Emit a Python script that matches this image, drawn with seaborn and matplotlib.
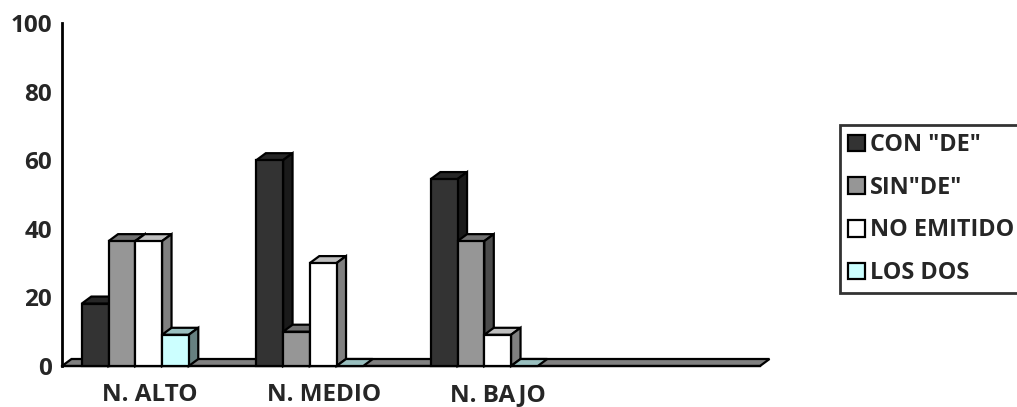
import numpy as np
import pandas as pd
import seaborn as sns
import matplotlib.pyplot as plt
from matplotlib.patches import Polygon, Patch, Rectangle
from matplotlib.colors import to_rgb

# Categories, series and values (%)
niveles = ["N. ALTO", "N. MEDIO", "N. BAJO", ""]
series = ['CON "DE"', 'SIN"DE"', "NO EMITIDO", "LOS DOS"]
con_de = [18.2, 60.0, 54.5]
sin_de = [36.4, 10.0, 36.4]
no_emitido = [36.4, 30.0, 9.1]
los_dos = [9.1, 0.0, 0.0]
y_ticks = [0, 20, 40, 60, 80, 100]

colores = ["#333333", "#969696", "#FFFFFF", "#CCFFFF"]

rows = []
for s, vals in zip(series, [con_de, sin_de, no_emitido, los_dos]):
    for n, v in zip(niveles, vals):
        rows.append({"nivel": n, "serie": s, "valor": v})
df = pd.DataFrame(rows)

sns.set_style("white")
plt.rcParams["font.family"] = ["Open Sans", "DejaVu Sans"]
plt.rcParams["font.weight"] = "bold"
FS = 17.5
FS_LEG = 16.8

W, H = 1017, 407
fig = plt.figure(figsize=(W / 100, H / 100), dpi=100)
ax = fig.add_axes([62 / W, 1 - 366 / H, (760 - 62) / W, (366 - 23) / H])

sns.barplot(data=df, x="nivel", y="valor", hue="serie", order=niveles,
            hue_order=series, palette=colores, saturation=1, width=0.613,
            edgecolor="black", linewidth=1.6, legend=False, ax=ax)

ax.set_xlim(-0.5, 3.5)
ax.set_ylim(0, 100)

bars = sorted([p for p in ax.patches if isinstance(p, Rectangle)],
              key=lambda p: p.get_x())

# depth of the 3-D extrusion, converted from pixels to data units
p0 = ax.transData.transform((0, 0))
ddx, ddy = ax.transData.inverted().transform((p0[0] + 9.5, p0[1] + 7.0))

# floor plane
floor = Polygon([(-0.5, 0), (3.5, 0), (3.5 + ddx, ddy), (-0.5 + ddx, ddy)],
                closed=True, facecolor="#808080", edgecolor="black",
                linewidth=1.6, clip_on=False, zorder=1)
ax.add_patch(floor)

def shade(c, f):
    r, g, b = to_rgb(c)
    return (r * f, g * f, b * f)

for i, bar in enumerate(bars):
    bar.set_x(bar.get_x() - 0.08)
    x0, w, h = bar.get_x(), bar.get_width(), bar.get_height()
    fc = bar.get_facecolor()[:3]
    z = 3 + i * 0.1
    top = Polygon([(x0, h), (x0 + w, h), (x0 + w + ddx, h + ddy), (x0 + ddx, h + ddy)],
                  closed=True, facecolor=shade(fc, 0.75), edgecolor="black",
                  linewidth=1.6, clip_on=False, zorder=z)
    ax.add_patch(top)
    if h > 0:
        side = Polygon([(x0 + w, 0), (x0 + w + ddx, ddy), (x0 + w + ddx, h + ddy), (x0 + w, h)],
                       closed=True, facecolor=shade(fc, 0.5), edgecolor="black",
                       linewidth=1.6, clip_on=False, zorder=z)
        ax.add_patch(side)
        bar.set_zorder(z + 0.05)
    else:
        bar.set_visible(False)
    bar.set_clip_on(False)

# axes styling
for s in ["top", "right"]:
    ax.spines[s].set_visible(False)
ax.spines["left"].set_linewidth(2)
ax.spines["bottom"].set_linewidth(1.6)
ax.spines["left"].set_color("black")
ax.spines["bottom"].set_color("black")

ax.set_yticks(y_ticks)
ax.set_yticklabels([str(t) for t in y_ticks], fontsize=FS, fontweight="bold")
ax.tick_params(axis="y", direction="out", length=4, width=1.6, pad=3, color="black")

ax.set_xticks([0, 1, 2, 3])
ax.set_xticklabels(niveles, fontsize=FS, fontweight="bold")
ax.set_xticks([0.5, 1.5, 2.5], minor=True)
ax.tick_params(axis="x", which="major", length=0, pad=12)
ax.tick_params(axis="x", which="minor", direction="out", length=4, width=1.6, color="black")
ax.set_xlabel("")
ax.set_ylabel("")

handles = [Patch(facecolor=c, edgecolor="black", linewidth=1.6) for c in colores]
leg = fig.legend(handles, series, loc="upper left",
                 bbox_to_anchor=(840 / W, 1 - 125 / H), frameon=True,
                 fancybox=False, edgecolor="black", borderaxespad=0,
                 handlelength=0.72, handleheight=0.72, handletextpad=0.2,
                 labelspacing=0.8, borderpad=0.35,
                 prop={"size": FS_LEG, "weight": "bold"})
leg.get_frame().set_linewidth(2)

fig.savefig("out.png", dpi=100)
